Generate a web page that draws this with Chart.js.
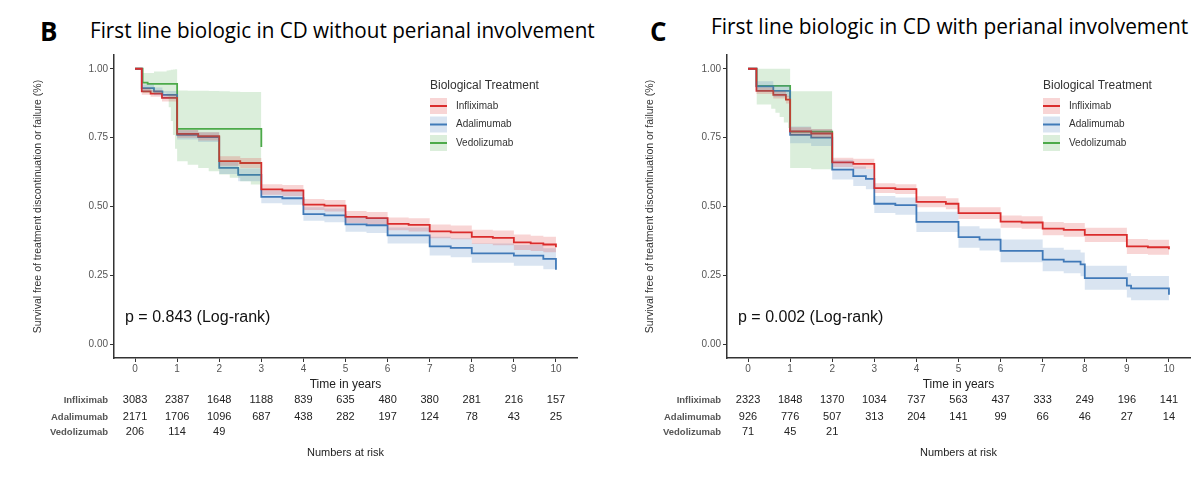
<!DOCTYPE html>
<html>
<head>
<meta charset="utf-8">
<script src="https://cdn.jsdelivr.net/npm/chart.js@4.4.0/dist/chart.umd.min.js"></script>
<style>
  body { margin: 0; background: #fff; width: 1200px; height: 479px; overflow: hidden; position: relative; }
  .panel { position: absolute; top: 0; width: 600px; height: 479px; }
  .letter { position: absolute; font: bold 26px "Open Sans"; line-height: normal; color: #000; }
  .title { position: absolute; font: 22px "Open Sans"; line-height: normal; color: #000; white-space: nowrap; transform-origin: left center; }
</style>
</head>
<body>
<div class="letter" style="left:40px;top:13px">B</div>
<div class="title" id="titleB" style="left:90px;top:14px" data-w="505">First line biologic in CD without perianal involvement</div>
<div class="letter" style="left:650px;top:13px">C</div>
<div class="title" id="titleC" style="left:711px;top:10px" data-w="477">First line biologic in CD with perianal involvement</div>
<div class="panel" style="left:0"><canvas id="chartB" width="600" height="479"></canvas></div>
<div class="panel" style="left:600px"><canvas id="chartC" width="600" height="479"></canvas></div>
<script>
// ---- data ----
const treatments = ['Infliximab', 'Adalimumab', 'Vedolizumab'];
const timeTicks = [0, 1, 2, 3, 4, 5, 6, 7, 8, 9, 10];
const survTicks = [0, 0.25, 0.5, 0.75, 1];

// B: without perianal involvement
const bInfT  = [0, 0.16, 0.37, 0.64, 1, 1.5, 2, 2.5, 3, 3.5, 4, 4.5, 5, 5.5, 6, 6.5, 7, 7.5, 8, 8.5, 9, 9.4, 9.7, 10];
const bInfS  = [1, 0.918, 0.91, 0.894, 0.764, 0.755, 0.665, 0.658, 0.562, 0.558, 0.507, 0.503, 0.462, 0.458, 0.437, 0.433, 0.41, 0.406, 0.39, 0.386, 0.37, 0.366, 0.362, 0.352];
const bInfLo = [1, 0.906, 0.898, 0.881, 0.75, 0.74, 0.648, 0.64, 0.543, 0.538, 0.487, 0.482, 0.44, 0.436, 0.414, 0.409, 0.385, 0.381, 0.364, 0.359, 0.342, 0.338, 0.334, 0.322];
const bInfHi = [1, 0.93, 0.922, 0.907, 0.778, 0.77, 0.682, 0.676, 0.581, 0.578, 0.527, 0.524, 0.484, 0.48, 0.46, 0.457, 0.435, 0.431, 0.416, 0.413, 0.398, 0.394, 0.39, 0.382];

const bAdaT  = [0, 0.16, 0.45, 0.65, 1, 1.5, 2, 2.45, 3, 3.5, 4, 4.5, 5, 5.5, 6, 7, 7.5, 8, 9, 9.7, 10];
const bAdaS  = [1, 0.93, 0.918, 0.905, 0.76, 0.752, 0.64, 0.615, 0.535, 0.53, 0.472, 0.468, 0.435, 0.432, 0.395, 0.355, 0.35, 0.33, 0.322, 0.31, 0.27];
const bAdaLo = [1, 0.917, 0.904, 0.891, 0.743, 0.734, 0.618, 0.592, 0.512, 0.506, 0.448, 0.443, 0.408, 0.404, 0.366, 0.322, 0.316, 0.296, 0.285, 0.272, 0.26];
const bAdaHi = [1, 0.943, 0.932, 0.919, 0.777, 0.77, 0.662, 0.638, 0.558, 0.554, 0.497, 0.493, 0.462, 0.46, 0.424, 0.39, 0.385, 0.366, 0.36, 0.348, 0.34];

const bVedT  = [0, 0.18, 0.3, 1, 3];
const bVedS  = [1, 0.95, 0.945, 0.782, 0.716];
const bVedBandT = [0.18, 0.45, 0.75, 0.8, 0.85, 0.9, 0.95, 1, 1.25, 1.5, 1.75, 2, 2.25, 2.5, 2.75, 3];
const bVedLo = [0.912, 0.91, 0.9, 0.86, 0.81, 0.76, 0.71, 0.664, 0.652, 0.64, 0.628, 0.616, 0.604, 0.592, 0.58, 0.568];
const bVedHi = [0.985, 0.99, 0.994, 0.995, 0.996, 0.997, 0.998, 0.921, 0.92, 0.92, 0.919, 0.918, 0.917, 0.916, 0.916, 0.915];

const bRiskInf = [3083, 2387, 1648, 1188, 839, 635, 480, 380, 281, 216, 157];
const bRiskAda = [2171, 1706, 1096, 687, 438, 282, 197, 124, 78, 43, 25];
const bRiskVed = [206, 114, 49];

// C: with perianal involvement
const cInfT  = [0, 0.2, 0.6, 0.9, 1, 1.5, 2, 2.5, 3, 3.5, 4, 4.7, 5, 6, 6.5, 7, 7.5, 8, 9, 9.5, 10];
const cInfS  = [1, 0.92, 0.905, 0.888, 0.773, 0.765, 0.66, 0.655, 0.567, 0.563, 0.517, 0.51, 0.476, 0.445, 0.442, 0.42, 0.415, 0.397, 0.355, 0.352, 0.345];
const cInfLo = [1, 0.908, 0.892, 0.874, 0.758, 0.749, 0.643, 0.637, 0.549, 0.545, 0.497, 0.49, 0.455, 0.423, 0.419, 0.396, 0.39, 0.371, 0.328, 0.325, 0.318];
const cInfHi = [1, 0.932, 0.918, 0.902, 0.788, 0.781, 0.677, 0.673, 0.584, 0.581, 0.537, 0.53, 0.497, 0.467, 0.465, 0.444, 0.44, 0.423, 0.382, 0.379, 0.372];

const cAdaT  = [0, 0.2, 0.6, 1, 1.5, 2, 2.5, 2.8, 3, 3.5, 4, 5, 5.5, 6, 7, 7.5, 7.9, 8, 9, 9.1, 10];
const cAdaS  = [1, 0.936, 0.92, 0.76, 0.75, 0.634, 0.61, 0.6, 0.51, 0.505, 0.444, 0.389, 0.38, 0.339, 0.307, 0.3, 0.29, 0.24, 0.213, 0.203, 0.18];
const cAdaLo = [1, 0.916, 0.898, 0.73, 0.72, 0.598, 0.574, 0.563, 0.476, 0.47, 0.407, 0.35, 0.34, 0.298, 0.265, 0.258, 0.247, 0.198, 0.17, 0.16, 0.144];
const cAdaHi = [1, 0.955, 0.941, 0.79, 0.78, 0.67, 0.645, 0.636, 0.538, 0.533, 0.481, 0.428, 0.42, 0.38, 0.35, 0.343, 0.333, 0.285, 0.258, 0.248, 0.25];

const cVedT  = [0, 0.2, 1, 2];
const cVedS  = [1, 0.938, 0.772, 0.66];
const cVedBandT = [0.2, 0.45, 0.55, 0.65, 0.75, 0.85, 0.95, 1, 1.5, 2];
const cVedLo = [0.87, 0.87, 0.855, 0.84, 0.825, 0.805, 0.785, 0.64, 0.635, 0.63];
const cVedHi = [1, 1, 1, 1, 1, 1, 1, 0.918, 0.918, 0.918];

const cRiskInf = [2323, 1848, 1370, 1034, 737, 563, 437, 333, 249, 196, 141];
const cRiskAda = [926, 776, 507, 313, 204, 141, 99, 66, 46, 27, 14];
const cRiskVed = [71, 45, 21];

// ---- styling ----
const colors = ['218, 44, 44', '64, 122, 184', '77, 170, 74'];
const FONT = '"Liberation Sans", Arial, sans-serif';
const AXIS = '#333';

// fit the panel titles to their width in the picture
document.querySelectorAll('.title').forEach(el => {
  el.style.transform = 'scaleX(' + (el.dataset.w / el.offsetWidth) + ')';
});

function pts(t, v) { return t.map((x, i) => ({x: x, y: v[i]})); }

// 'before' = keep the old value up to the next time, then drop
function bandSets(t, lo, hi, c) {
  return [
    {data: pts(t, hi), stepped: 'before', borderWidth: 0, pointRadius: 0, fill: false},
    {data: pts(t, lo), stepped: 'before', borderWidth: 0, pointRadius: 0, fill: '-1',
     backgroundColor: 'rgba(' + c + ', 0.2)'}
  ];
}

function lineSet(t, s, c) {
  return {data: pts(t, s), stepped: 'before', borderColor: 'rgb(' + c + ')', borderWidth: 1.8,
          pointRadius: 0, fill: false};
}

// legend, p-value and numbers-at-risk table
const extras = {
  id: 'extras',
  afterDraw(chart, args, opts) {
    const ctx = chart.ctx, a = chart.chartArea, x = chart.scales.x;
    ctx.save();
    ctx.textBaseline = 'middle';

    ctx.fillStyle = '#111';
    ctx.textAlign = 'left';
    ctx.font = '16px ' + FONT;
    ctx.fillText(opts.pText, a.left + 11, a.top + 263);

    // legend
    const lx = a.left + 316;
    ctx.fillStyle = '#333';
    ctx.font = '12px ' + FONT;
    ctx.fillText('Biological Treatment', lx, a.top + 31);
    const rowsY = [51, 69.5, 88];
    treatments.forEach((name, i) => {
      const y = a.top + rowsY[i];
      ctx.fillStyle = 'rgba(' + colors[i] + ', 0.2)';
      ctx.fillRect(lx, y - 8, 17, 16);
      ctx.strokeStyle = 'rgb(' + colors[i] + ')';
      ctx.lineWidth = 2;
      ctx.beginPath();
      ctx.moveTo(lx, y);
      ctx.lineTo(lx + 17, y);
      ctx.stroke();
      ctx.fillStyle = '#333';
      ctx.font = '10px ' + FONT;
      ctx.fillText(name, lx + 26, y);
    });

    // numbers at risk
    const tableY = [42, 59, 74];
    opts.risk.forEach((row, r) => {
      const y = a.bottom + tableY[r];
      ctx.textAlign = 'right';
      ctx.fillStyle = '#555';
      ctx.font = 'bold 9.5px ' + FONT;
      ctx.fillText(treatments[r], a.left - 6, y);
      ctx.textAlign = 'center';
      ctx.fillStyle = '#222';
      ctx.font = '11px ' + FONT;
      row.forEach((n, i) => ctx.fillText(String(n), x.getPixelForValue(timeTicks[i]), y));
    });
    ctx.fillStyle = '#222';
    ctx.font = '11px ' + FONT;
    ctx.fillText('Numbers at risk', (a.left + a.right) / 2, a.bottom + 95);
    ctx.restore();
  }
};

function makeChart(id, series, risk, pText, pad, yWidth) {
  const datasets = [];
  series.forEach((s, i) => datasets.push(...bandSets(s.bandT, s.lo, s.hi, colors[i])));
  series.forEach((s, i) => datasets.push(lineSet(s.t, s.s, colors[i])));
  return new Chart(document.getElementById(id), {
    type: 'line',
    data: {datasets: datasets},
    plugins: [extras],
    options: {
      responsive: false,
      animation: false,
      layout: {padding: pad},
      plugins: {
        legend: {display: false},
        tooltip: {enabled: false},
        extras: {risk: risk, pText: pText}
      },
      scales: {
        x: {
          type: 'linear', min: -0.5, max: 10.5,
          afterBuildTicks: sc => { sc.ticks = timeTicks.map(v => ({value: v})); },
          afterFit: sc => { sc.height = 34; },
          grid: {drawOnChartArea: false, drawTicks: true, tickLength: 4, color: AXIS},
          border: {display: true, color: AXIS, width: 1.5},
          ticks: {color: '#555', font: {family: FONT, size: 10}, padding: 1, maxRotation: 0, autoSkip: false,
                  callback: v => String(v)},
          title: {display: true, text: 'Time in years', color: '#222', font: {family: FONT, size: 12},
                  padding: {top: 2, bottom: 0}}
        },
        y: {
          type: 'linear', min: -0.05, max: 1.05,
          afterBuildTicks: sc => { sc.ticks = survTicks.map(v => ({value: v})); },
          afterFit: sc => { sc.width = yWidth; },
          grid: {drawOnChartArea: false, drawTicks: true, tickLength: 4, color: AXIS},
          border: {display: true, color: AXIS, width: 1.5},
          ticks: {color: '#555', font: {family: FONT, size: 10}, padding: 2, callback: v => v.toFixed(2)},
          title: {display: true, text: 'Survival free of treatment discontinuation or failure (%)',
                  color: '#333', font: {family: FONT, size: 10.5}, padding: {top: 4, bottom: 4}}
        }
      }
    }
  });
}

const chartB = makeChart('chartB', [
  {t: bInfT, s: bInfS, bandT: bInfT, lo: bInfLo, hi: bInfHi},
  {t: bAdaT, s: bAdaS, bandT: bAdaT, lo: bAdaLo, hi: bAdaHi},
  {t: bVedT, s: bVedS, bandT: bVedBandT, lo: bVedLo, hi: bVedHi}
], [bRiskInf, bRiskAda, bRiskVed], 'p = 0.843 (Log-rank)', {left: 28, right: 23, top: 55, bottom: 87}, 86);

const chartC = makeChart('chartC', [
  {t: cInfT, s: cInfS, bandT: cInfT, lo: cInfLo, hi: cInfHi},
  {t: cAdaT, s: cAdaS, bandT: cAdaT, lo: cAdaLo, hi: cAdaHi},
  {t: cVedT, s: cVedS, bandT: cVedBandT, lo: cVedLo, hi: cVedHi}
], [cRiskInf, cRiskAda, cRiskVed], 'p = 0.002 (Log-rank)', {left: 40, right: 10, top: 55, bottom: 87}, 87);
</script>
</body>
</html>
